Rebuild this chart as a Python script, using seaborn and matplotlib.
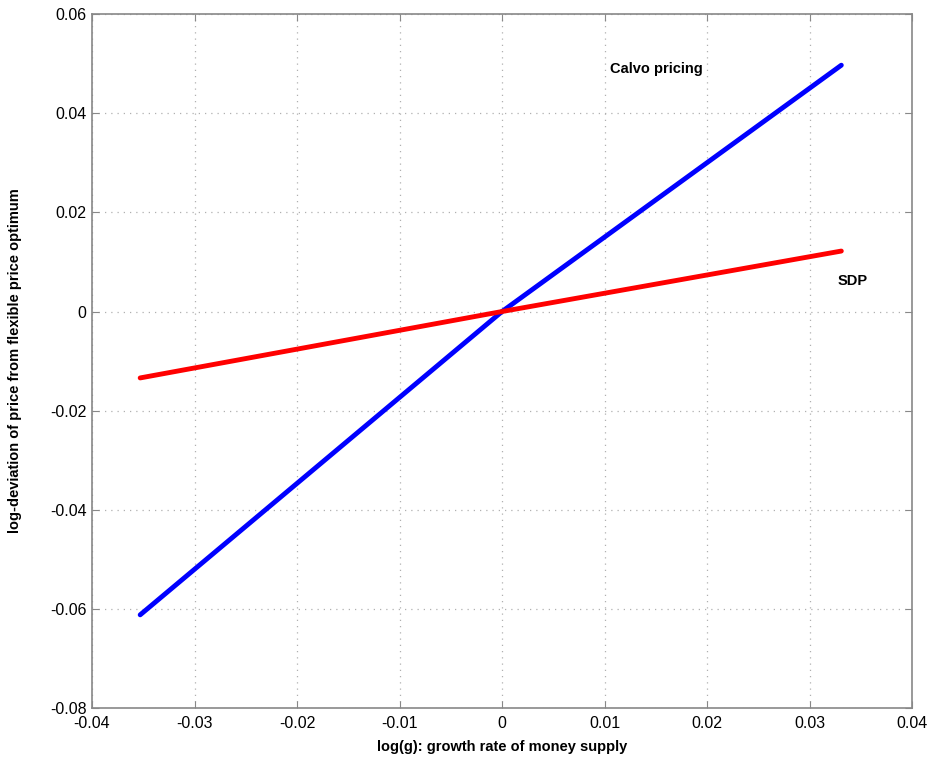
import matplotlib
matplotlib.use('Agg')
import matplotlib.pyplot as plt
import seaborn as sns
import pandas as pd

# values
growth = [-0.0353, 0.0, 0.0331]
calvo = [-0.0612, 0.0, 0.0497]
sdp = [-0.0134, 0.0, 0.0122]

df = pd.DataFrame({
    'x': growth * 2,
    'y': calvo + sdp,
    'model': ['Calvo pricing'] * 3 + ['SDP'] * 3,
})

sns.set_style('white')
plt.rcParams['font.family'] = ['Liberation Sans', 'DejaVu Sans']
plt.rcParams['text.color'] = 'black'
plt.rcParams['axes.labelcolor'] = 'black'
plt.rcParams['xtick.color'] = 'black'
plt.rcParams['ytick.color'] = 'black'

fig = plt.figure(figsize=(9.34, 7.65), dpi=100)
ax = fig.add_axes([0.0985, 0.0745, 0.878, 0.907])

sns.lineplot(data=df, x='x', y='y', hue='model',
             palette={'Calvo pricing': '#0000ff', 'SDP': '#ff0000'},
             linewidth=3.5, legend=False, ax=ax)

ax.set_xlim(-0.04, 0.04)
ax.set_ylim(-0.08, 0.06)
ax.set_xticks([-0.04, -0.03, -0.02, -0.01, 0, 0.01, 0.02, 0.03, 0.04])
ax.set_xticklabels(['-0.04', '-0.03', '-0.02', '-0.01', '0', '0.01', '0.02', '0.03', '0.04'])
ax.set_yticks([-0.08, -0.06, -0.04, -0.02, 0, 0.02, 0.04, 0.06])
ax.set_yticklabels(['-0.08', '-0.06', '-0.04', '-0.02', '0', '0.02', '0.04', '0.06'])

ax.grid(True, linestyle=(0, (1, 4)), color='#b0b0b0', linewidth=0.9)
for s in ax.spines.values():
    s.set_color('#888888')
    s.set_linewidth(1.2)
ax.tick_params(direction='in', length=5, color='#888888', labelsize=11.5,
               labelcolor='black', top=True, right=True, bottom=True, left=True)
ax.tick_params(axis='x', pad=6)
ax.tick_params(axis='y', pad=4)

ax.set_xlabel('log(g): growth rate of money supply', fontsize=10.5, fontweight='bold', labelpad=6)
ax.set_ylabel('log-deviation of price from flexible price optimum', fontsize=10.5,
              fontweight='bold', labelpad=20)

ax.text(0.0105, 0.0489, 'Calvo pricing', fontsize=10.5, fontweight='bold', va='center')
ax.text(0.0327, 0.0062, 'SDP', fontsize=10.5, fontweight='bold', va='center')

plt.savefig('out.png', dpi=100)
plt.close()
